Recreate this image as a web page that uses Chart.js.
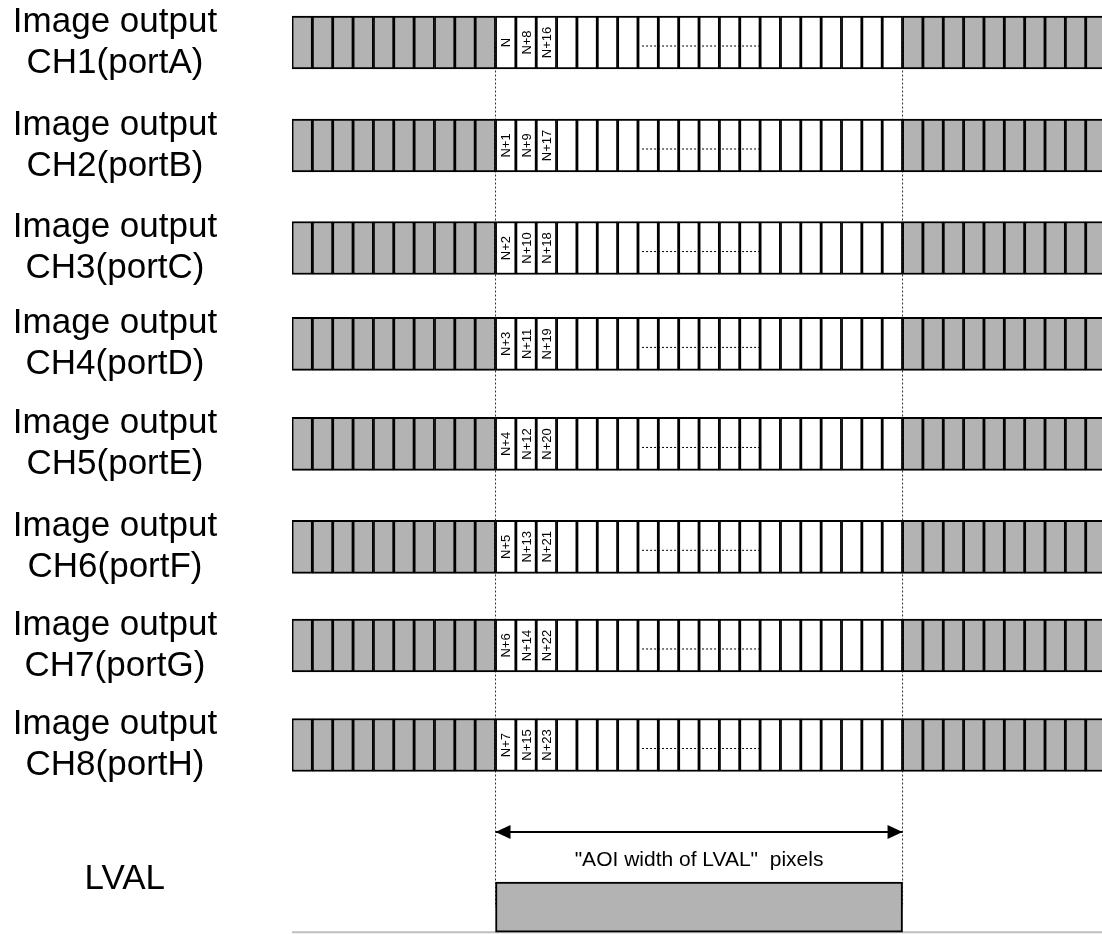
<!DOCTYPE html>
<html>
<head>
<meta charset="utf-8">
<title>Image output timing</title>
<script src="https://cdn.jsdelivr.net/npm/chart.js@4.4.0/dist/chart.umd.min.js"></script>
<style>
  html, body { margin: 0; padding: 0; background: #fff; }
  #wrap { width: 1102px; height: 934px; }
</style>
</head>
<body>
<div id="wrap"><canvas id="timing"></canvas></div>
<script>
// Channels, top to bottom
const rowLabel = 'Image output';
const channels = ['CH1(portA)', 'CH2(portB)', 'CH3(portC)', 'CH4(portD)',
                  'CH5(portE)', 'CH6(portF)', 'CH7(portG)', 'CH8(portH)'];
const lvalLabel = 'LVAL';

// Pixel tags written in the first three valid cells of each channel
const tagsFirst  = ['N', 'N+1', 'N+2', 'N+3', 'N+4', 'N+5', 'N+6', 'N+7'];
const tagsSecond = ['N+8', 'N+9', 'N+10', 'N+11', 'N+12', 'N+13', 'N+14', 'N+15'];
const tagsThird  = ['N+16', 'N+17', 'N+18', 'N+19', 'N+20', 'N+21', 'N+22', 'N+23'];

// Cells (clock slots) along the line
const cellCount = 40;
const aoiStart = 10;   // first valid cell
const aoiEnd = 30;     // end of valid cells
const gapFrom = 17.2;  // dotted "..." inside the valid cells
const gapTo = 23.1;
const aoiCaption = '"AOI width of LVAL"  pixels';

// Vertical levels (row units)
const rowLevels = [0, 1.026, 2.048, 3.003, 4.0, 5.025, 6.008, 7.0];
const arrowLevel = 7.867;
const captionLevel = 8.146;
const lvalTickLevel = 8.339;
const lvalLevel = 8.616;
const baseLevel = 8.866;

const GRAY = '#b3b3b3';
const FONT = 'Liberation Sans, Arial, sans-serif';

// cells of every channel
const cellData = [];
const cellFill = [];
rowLevels.forEach(lv => {
  for (let c = 0; c < cellCount; c++) {
    cellData.push({ x: [c, c + 1], y: lv });
    cellFill.push(c >= aoiStart && c < aoiEnd ? '#ffffff' : GRAY);
  }
});

const datasets = [
  {
    type: 'bar', label: 'cells', indexAxis: 'y', data: cellData,
    backgroundColor: cellFill, borderColor: '#000',
    borderWidth: { top: 2, bottom: 2, left: 1.75, right: 1.75 },
    borderSkipped: false, barThickness: 53, grouped: false, order: 1
  },
  {
    type: 'bar', label: 'LVAL', indexAxis: 'y',
    data: [{ x: [aoiStart, aoiEnd], y: lvalLevel }],
    backgroundColor: GRAY, borderColor: '#000', borderWidth: 2,
    borderSkipped: false, barThickness: 50, grouped: false, order: 1
  },
  {
    type: 'line', label: 'start', data: [{ x: aoiStart, y: rowLevels[0] }, { x: aoiStart, y: lvalLevel }],
    borderColor: '#333', borderWidth: 1, borderDash: [2, 2], pointRadius: 0, order: 5
  },
  {
    type: 'line', label: 'end', data: [{ x: aoiEnd, y: rowLevels[0] }, { x: aoiEnd, y: lvalLevel }],
    borderColor: '#333', borderWidth: 1, borderDash: [2, 2], pointRadius: 0, order: 5
  },
  {
    type: 'line', label: 'width', data: [{ x: aoiStart, y: arrowLevel }, { x: aoiEnd, y: arrowLevel }],
    borderColor: '#000', borderWidth: 2, pointRadius: 0, order: 2
  },
  {
    type: 'line', label: 'base', data: [{ x: 0, y: baseLevel }, { x: cellCount, y: baseLevel }],
    borderColor: '#bfbfbf', borderWidth: 2, pointRadius: 0, order: 6
  }
];
rowLevels.forEach(lv => {
  datasets.push({
    type: 'line', label: 'gap', data: [{ x: gapFrom, y: lv + 0.035 }, { x: gapTo, y: lv + 0.035 }],
    borderColor: '#000', borderWidth: 1, borderDash: [2, 2], pointRadius: 0, order: 0
  });
});

const tickLevels = rowLevels.concat([lvalTickLevel]);
const tickLabels = channels.map(ch => [rowLabel, ch]).concat(['  ' + lvalLabel]);

// centre the row names around x = 115
const probe = document.createElement('canvas').getContext('2d');
probe.font = '35px ' + FONT;
const widest = probe.measureText(rowLabel).width;
const labelPad = 292 - 115 - widest / 2;

const overlay = {
  id: 'overlay',
  afterDatasetsDraw(chart) {
    const { ctx, scales: { x, y } } = chart;
    ctx.save();
    ctx.fillStyle = '#000';
    ctx.textAlign = 'center';
    ctx.textBaseline = 'middle';
    ctx.font = '13px ' + FONT;
    rowLevels.forEach((lv, r) => {
      [tagsFirst, tagsSecond, tagsThird].forEach((tags, k) => {
        ctx.save();
        ctx.translate(x.getPixelForValue(aoiStart + k + 0.5) + 1, y.getPixelForValue(lv));
        ctx.rotate(-Math.PI / 2);
        ctx.fillText(tags[r], 0, 0);
        ctx.restore();
      });
    });
    // arrow heads
    const ay = y.getPixelForValue(arrowLevel);
    const x0 = x.getPixelForValue(aoiStart);
    const x1 = x.getPixelForValue(aoiEnd);
    ctx.beginPath();
    ctx.moveTo(x0, ay); ctx.lineTo(x0 + 15, ay - 7); ctx.lineTo(x0 + 15, ay + 7); ctx.closePath();
    ctx.moveTo(x1, ay); ctx.lineTo(x1 - 15, ay - 7); ctx.lineTo(x1 - 15, ay + 7); ctx.closePath();
    ctx.fill();
    ctx.font = '21px ' + FONT;
    ctx.fillText(aoiCaption, (x0 + x1) / 2, y.getPixelForValue(captionLevel));
    ctx.restore();
  }
};

new Chart(document.getElementById('timing'), {
  type: 'bar',
  data: { datasets: datasets },
  options: {
    responsive: true,
    maintainAspectRatio: false,
    animation: false,
    layout: { padding: 0 },
    plugins: { legend: { display: false }, tooltip: { enabled: false } },
    scales: {
      x: { type: 'linear', display: false, offset: false, min: 0, max: 39.8 },
      y: {
        type: 'linear', reverse: true, offset: false, min: -0.4235, max: 8.883,
        grid: { display: false, drawTicks: false, offset: false },
        border: { display: false },
        afterBuildTicks: s => { s.ticks = tickLevels.map(v => ({ value: v })); },
        afterFit: s => { s.width = 292; s.paddingTop = 0; s.paddingBottom = 0; },
        ticks: {
          autoSkip: false,
          crossAlign: 'center',
          padding: labelPad,
          color: '#000',
          font: { family: FONT, size: 35, lineHeight: 1.17 },
          callback: (value, index) => tickLabels[index]
        }
      }
    }
  },
  plugins: [overlay]
});
</script>
</body>
</html>
